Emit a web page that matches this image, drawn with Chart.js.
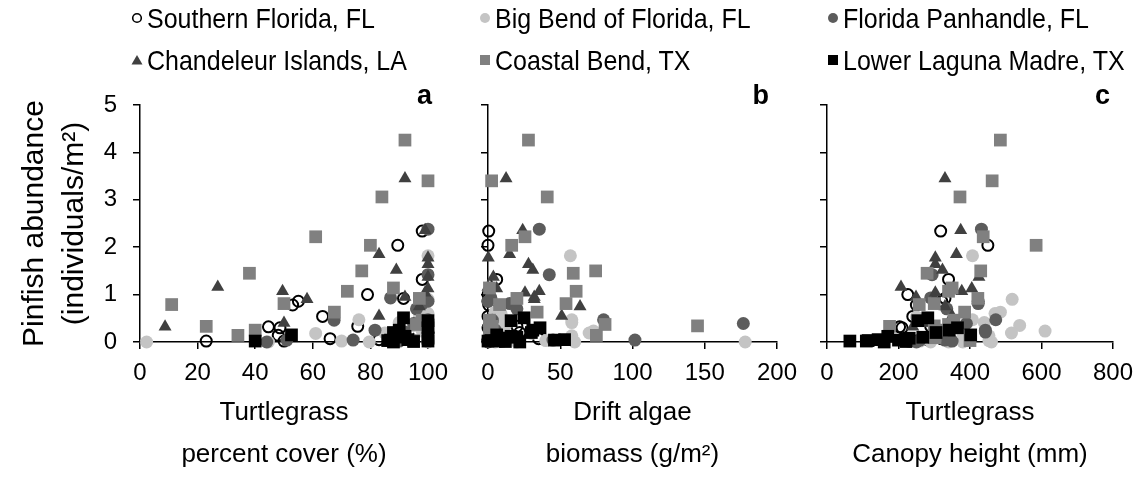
<!DOCTYPE html>
<html>
<head>
<meta charset="utf-8">
<script src="https://cdn.jsdelivr.net/npm/chart.js@4.4.0/dist/chart.umd.min.js"></script>
<style>
  html, body { margin: 0; padding: 0; background: #fff; }
  #wrap { position: relative; width: 1143px; height: 483px; overflow: hidden; font-family: "Liberation Sans", Arial, sans-serif; }
  #wrap canvas { position: absolute; left: 0; top: 0; }
  .leg { position: absolute; height: 30px; display: flex; align-items: center; font-size: 25px; color: #000; white-space: nowrap; }
  .leg span { display: inline-block; transform: scaleY(1.14); }
  .leg svg { margin-right: 4px; }
</style>
</head>
<body>
<div id="wrap">
  <canvas id="panelA" width="1143" height="483"></canvas>
  <canvas id="panelB" width="1143" height="483"></canvas>
  <canvas id="panelC" width="1143" height="483"></canvas>
  <div id="legend"></div>
</div>
<script>
// pinfish abundance (individuals/m2) vs. turtlegrass cover (%), drift algae (g/m2), canopy height (mm)
const siteNames = ["Southern Florida, FL", "Big Bend of Florida, FL", "Florida Panhandle, FL",
  "Chandeleur Islands, LA", "Coastal Bend, TX", "Lower Laguna Madre, TX"];

const southAbund  = [2.34, 2.04, 1.32, 1.00, 0.92, 0.86, 0.78, 0.54, 0.33, 0.32, 0.30, 0.14, 0.07, 0.05, 0.02, 0.02, 0.20];
const southCover  = [98, 89.5, 98, 79, 91.5, 55, 53, 63.4, 75.6, 44.6, 48.6, 48, 66, 83, 23, 50, 100];
const southAlgae  = [0.5, 0, 6, 0, 1, 0, 0.5, 0, 20, 1, 0, 2, 35, 0, 0, 1, 22];
const southCanopy = [318, 450, 340, 226, 330, 321, 250, 240, 290, 203, 210, 300, 320, 280, 250, 230, 310];

const bigBendAbund  = [1.82, 0.90, 0.63, 0.60, 0.53, 0.47, 0.41, 0.35, 0.23, 0.19, 0.18, 0.13, 0.05, 0.03, 0.02, 0, 0, 0, 0];
const bigBendCover  = [100, 100, 99, 100, 97, 76, 90, 95, 98, 85, 61, 92, 88, 95, 70, 2.3, 44.6, 79.6, 100];
const bigBendAlgae  = [57, 2, 5, 9, 9, 58, 58, 12, 73, 70, 30, 58, 3, 40, 10, 178, 20, 5, 60];
const bigBendCanopy = [407, 518, 485, 470, 250, 407, 440, 539, 610, 516, 380, 453, 400, 453, 260, 380, 290, 340, 460];

const panhandleAbund  = [2.38, 1.42, 0.93, 0.86, 0.81, 0.70, 0.47, 0.46, 0.39, 0.25, 0.21, 0.04, 0.04, 0, 0.02];
const panhandleCover  = [100, 100, 87, 100, 98, 96, 100, 67.4, 95, 81.6, 92, 74, 51, 44, 90];
const panhandleAlgae  = [35.5, 42.4, 2, 0, 15, 20, 80, 3, 176.7, 5, 30, 101.7, 45, 0, 10];
const panhandleCanopy = [432, 294, 290, 423, 423, 335, 472, 280, 390, 443, 443, 330, 260, 250, 350];

const chandAbund  = [3.45, 2.36, 1.85, 1.78, 1.64, 1.52, 1.37, 1.16, 1.13, 1.07, 1.04, 0.95, 0.90, 0.75, 0.55, 0.40, 0.32, 0.05];
const chandCover  = [92, 99, 83, 100, 100, 89, 100, 27, 100, 49.5, 99, 92, 58, 97, 83, 50, 8.7, 95];
const chandAlgae  = [12.5, 24, 15, 0.2, 28, 31, 3.7, 0, 6, 35.5, 25.6, 32, 32, 63.7, 51, 0, 1, 3];
const chandCanopy = [330, 374, 362, 303, 303, 323, 425, 207, 405, 377, 303, 249, 300, 330, 350, 280, 240, 300];

const coastalAbund  = [4.26, 3.40, 3.06, 2.22, 2.04, 1.50, 1.45, 1.14, 1.07, 0.92, 0.81, 0.79, 0.63, 0.46, 0.37, 0.34, 0.33, 0.25, 0.14, 0.09, 0.03];
const coastalCover  = [92, 100, 84, 61, 80, 77, 38, 88, 72, 97, 50, 11, 67.5, 98, 96, 100, 23, 40, 34, 90, 95];
const coastalAlgae  = [28, 2.5, 41, 25.6, 16.4, 74.5, 59, 1, 61, 20, 54, 8, 34, 1, 81, 145, 3, 1, 75, 10, 5];
const coastalCanopy = [485, 462, 372, 437, 585, 430, 280, 350, 340, 422, 300, 258, 385, 355, 340, 300, 175, 320, 302, 302, 400];

const lagunaAbund  = [0.51, 0.45, 0.30, 0.25, 0.20, 0.15, 0.12, 0.10, 0.08, 0.05, 0.04, 0.03, 0.02, 0.02, 0.01, 0];
const lagunaCover  = [91.5, 100, 100, 90, 88, 52.6, 92, 89, 100, 93, 87, 86, 40, 100, 95, 88];
const lagunaAlgae  = [25, 16, 36, 31, 30, 6, 16, 20, 10, 53, 46, 2, 0, 5, 12, 22];
const lagunaCanopy = [282, 254, 365, 342, 305, 402, 170, 268, 230, 143, 200, 115, 64, 110, 221, 160];

const yTicks = [0, 1, 2, 3, 4, 5];
const coverTicks = [0, 20, 40, 60, 80, 100];
const algaeTicks = [0, 50, 100, 150, 200];
const canopyTicks = [0, 200, 400, 600, 800];

const FONT = "'Liberation Sans', Arial, sans-serif";

// marker look for each site (same order as siteNames)
const markers = [
  { pointStyle: "circle",   radius: 5.5, bg: "rgba(0,0,0,0)", border: "#000", bw: 2 },
  { pointStyle: "circle",   radius: 6.5, bg: "#c4c4c4", border: "#c4c4c4", bw: 0 },
  { pointStyle: "circle",   radius: 6.5, bg: "#5c5c5c", border: "#5c5c5c", bw: 0 },
  { pointStyle: "triangle", radius: 7.5, bg: "#404040", border: "#404040", bw: 0 },
  { pointStyle: "rect",     radius: 9,   bg: "#808080", border: "#808080", bw: 0 },
  { pointStyle: "rect",     radius: 9,   bg: "#000000", border: "#000000", bw: 0 },
];

const abundances = [southAbund, bigBendAbund, panhandleAbund, chandAbund, coastalAbund, lagunaAbund];

function pairUp(xs, ys) {
  return ys.map((y, i) => ({ x: xs[i], y: y }));
}

function makeDatasets(xLists) {
  return xLists.map((xs, i) => {
    const m = markers[i];
    return {
      label: siteNames[i],
      data: pairUp(xs, abundances[i]),
      pointStyle: m.pointStyle,
      pointRadius: m.radius,
      pointHoverRadius: m.radius,
      backgroundColor: m.bg,
      borderColor: m.border,
      borderWidth: m.bw,
      showLine: false,
      clip: false,
      order: 6 - i, // later sites drawn on top, like the original
    };
  });
}

const panelLetter = {
  id: "panelLetter",
  afterDraw(chart, args, opts) {
    const { ctx, chartArea } = chart;
    ctx.save();
    ctx.font = "bold 27px " + FONT;
    ctx.fillStyle = "#000";
    ctx.textAlign = "right";
    ctx.textBaseline = "alphabetic";
    ctx.fillText(opts.text, chartArea.right + opts.dx, chartArea.top - 1);
    ctx.restore();
  }
};

// one panel; left/right are the plot-area edges in page pixels
function makePanel(id, xLists, xTicks, xMax, xTitle, letter, letterDx, left, right, withYLabels) {
  const axisGrid = { display: true, drawOnChartArea: false, drawTicks: true, tickLength: 7, color: "#000", lineWidth: 1.5 };
  new Chart(document.getElementById(id), {
    type: "scatter",
    data: { datasets: makeDatasets(xLists) },
    plugins: [panelLetter],
    options: {
      responsive: false,
      animation: false,
      events: [],
      layout: { padding: { left: 0, right: 1143 - right, top: 105, bottom: 0 } },
      scales: {
        x: {
          type: "linear",
          min: 0,
          max: xMax,
          afterBuildTicks: (s) => { s.ticks = xTicks.map((v) => ({ value: v })); },
          afterFit: (s) => { s.height = 141; },
          grid: axisGrid,
          border: { display: true, color: "#000", width: 1.5 },
          ticks: { color: "#000", padding: 10, maxRotation: 0, font: { size: 24, family: FONT } },
          title: {
            display: true,
            text: xTitle,
            color: "#000",
            padding: { top: 0, bottom: 7 },
            font: { size: 26, family: FONT, lineHeight: "42px" },
          },
        },
        y: {
          type: "linear",
          min: 0,
          max: 5,
          afterBuildTicks: (s) => { s.ticks = yTicks.map((v) => ({ value: v })); },
          afterFit: (s) => { s.width = left; },
          grid: axisGrid,
          border: { display: true, color: "#000", width: 1.5 },
          ticks: { display: withYLabels, color: "#000", padding: 16, font: { size: 24, family: FONT } },
          title: {
            display: withYLabels,
            text: ["Pinfish abundance", "(individuals/m\u00B2)"],
            color: "#000",
            padding: { top: 15, bottom: 0 },
            font: { size: 30, family: FONT, lineHeight: "40px" },
          },
        },
      },
      plugins: {
        legend: { display: false },
        tooltip: { enabled: false },
        panelLetter: { text: letter, dx: letterDx },
      },
    },
  });
}

makePanel("panelA", [southCover, bigBendCover, panhandleCover, chandCover, coastalCover, lagunaCover],
  coverTicks, 100, ["Turtlegrass", "percent cover (%)"], "a", 4, 140, 428, true);
makePanel("panelB", [southAlgae, bigBendAlgae, panhandleAlgae, chandAlgae, coastalAlgae, lagunaAlgae],
  algaeTicks, 200, ["Drift algae", "biomass (g/m\u00B2)"], "b", -8, 488, 777, false);
makePanel("panelC", [southCanopy, bigBendCanopy, panhandleCanopy, chandCanopy, coastalCanopy, lagunaCanopy],
  canopyTicks, 800, ["Turtlegrass", "Canopy height (mm)"], "c", -3, 827, 1115, false);

// legend: two rows of three, drawn as page text with small marker icons
const legendCols = [131, 479, 827];
const legendRows = [3, 45];
const legendIcons = [
  '<svg width="12" height="12"><circle cx="6" cy="6" r="4.3" fill="none" stroke="#000" stroke-width="1.6"/></svg>',
  '<svg width="12" height="12"><circle cx="6" cy="6" r="5" fill="#c4c4c4"/></svg>',
  '<svg width="12" height="12"><circle cx="6" cy="6" r="5" fill="#5c5c5c"/></svg>',
  '<svg width="12" height="12"><polygon points="6,1 11.5,10.5 0.5,10.5" fill="#404040"/></svg>',
  '<svg width="12" height="12"><rect x="1" y="1" width="10" height="10" fill="#808080"/></svg>',
  '<svg width="12" height="12"><rect x="1" y="1" width="10" height="10" fill="#000"/></svg>',
];
const legendBox = document.getElementById("legend");
siteNames.forEach((name, i) => {
  const el = document.createElement("div");
  el.className = "leg";
  el.style.left = legendCols[i % 3] + "px";
  el.style.top = legendRows[Math.floor(i / 3)] + "px";
  el.innerHTML = legendIcons[i] + "<span>" + name + "</span>";
  legendBox.appendChild(el);
});
</script>
</body>
</html>
